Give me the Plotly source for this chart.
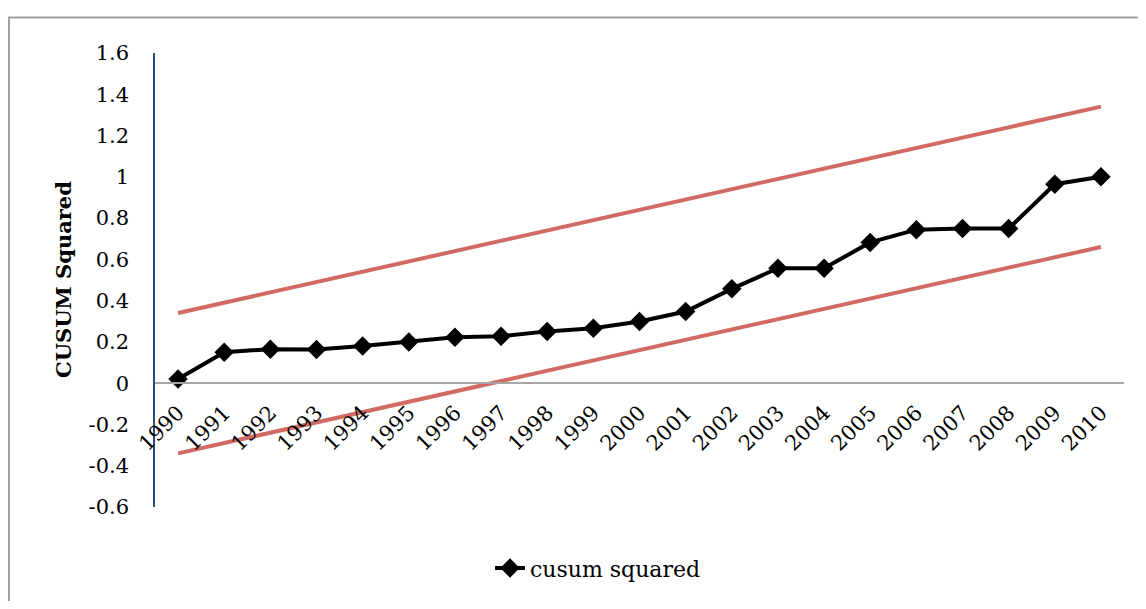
import plotly.graph_objects as go

years = [str(y) for y in range(1990, 2011)]
cusum_sq = [0.02, 0.15, 0.165, 0.163, 0.18, 0.20, 0.222, 0.227, 0.251, 0.266, 0.299,
            0.347, 0.457, 0.557, 0.557, 0.682, 0.744, 0.749, 0.749, 0.964, 1.0]
upper = [0.34, 0.39, 0.44, 0.49, 0.54, 0.59, 0.64, 0.69, 0.74, 0.79, 0.84,
         0.89, 0.94, 0.99, 1.04, 1.09, 1.14, 1.19, 1.24, 1.29, 1.34]
lower = [-0.34, -0.29, -0.24, -0.19, -0.14, -0.09, -0.04, 0.01, 0.06, 0.11, 0.16,
         0.21, 0.26, 0.31, 0.36, 0.41, 0.46, 0.51, 0.56, 0.61, 0.66]
y_ticks = [-0.6, -0.4, -0.2, 0, 0.2, 0.4, 0.6, 0.8, 1, 1.2, 1.4, 1.6]
y_tick_text = ["-0.6", "-0.4", "-0.2", "0", "0.2", "0.4", "0.6", "0.8", "1", "1.2", "1.4", "1.6"]

FONT = "DejaVu Serif"
RED = "#D06A62"

fig = go.Figure()
fig.add_trace(go.Scatter(x=years, y=upper, mode="lines", line=dict(color=RED, width=4),
                         showlegend=False, hoverinfo="skip"))
fig.add_trace(go.Scatter(x=years, y=lower, mode="lines", line=dict(color=RED, width=4),
                         showlegend=False, hoverinfo="skip"))
fig.add_trace(go.Scatter(x=years, y=cusum_sq, mode="lines+markers", name="cusum squared",
                         line=dict(color="black", width=4),
                         marker=dict(symbol="diamond", size=15, color="black")))

OFFX, OFFY = 8, 5  # page offsets
W, H = 1130, 593
L, R, T, B = 147, 14, 45, 88
pw, ph = W - L - R, H - T - B

def px_x(x):
    return (x - OFFX - L) / pw

def px_y(y):
    return (H - B - (y - OFFY)) / ph

fig.update_layout(
    width=W, height=H,
    margin=dict(l=L, r=R, t=T, b=B),
    paper_bgcolor="white", plot_bgcolor="white",
    font=dict(family=FONT, size=21, color="black"),
    xaxis=dict(type="category", range=[-0.5, 20.5], anchor="free",
               position=0.6 / 2.2, showline=True, linecolor="#A6A6A6", linewidth=2,
               showgrid=False, zeroline=False, ticks="", tickangle=-45,
               ticklabelstandoff=8,
               tickfont=dict(family=FONT, size=21)),
    yaxis=dict(range=[-0.6, 1.6], tickvals=y_ticks, ticktext=y_tick_text,
               showline=True, linecolor="#2F4A7A", linewidth=1.5,
               showgrid=False, zeroline=False, ticks="", ticklabelstandoff=20,
               tickfont=dict(family=FONT, size=21)),
    showlegend=True,
    legend=dict(orientation="h", x=px_x(490), y=px_y(572), xanchor="left", yanchor="middle",
                font=dict(family=FONT, size=22), bgcolor="rgba(0,0,0,0)"),
    annotations=[dict(text="<b>CUSUM Squared</b>", xref="paper", yref="paper",
                      x=px_x(63), y=px_y(280), textangle=-90, showarrow=False,
                      font=dict(family=FONT, size=21, color="black"),
                      xanchor="center", yanchor="middle")],
    shapes=[dict(type="rect", xref="paper", yref="paper",
                 x0=px_x(9), x1=px_x(1160), y0=px_y(640), y1=px_y(14),
                 line=dict(color="#A0A0A0", width=2), layer="below")],
)

fig.write_html("out.html")
